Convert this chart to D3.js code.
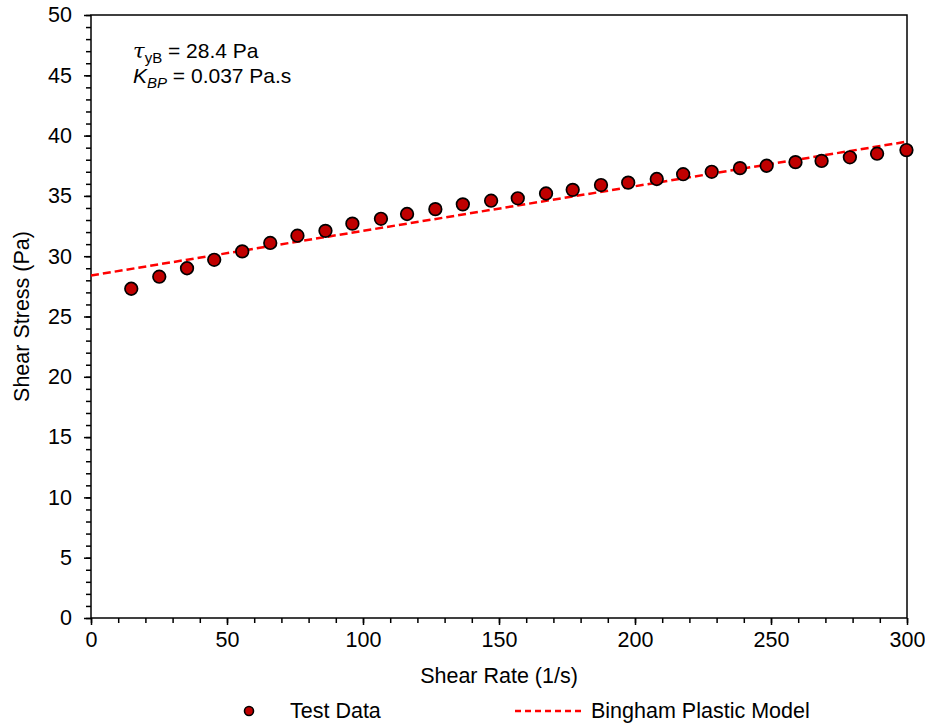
<!DOCTYPE html>
<html>
<head>
<meta charset="utf-8">
<script src="https://cdn.jsdelivr.net/npm/d3@7"></script>
<style>
  body { margin: 0; background: #fff; }
  svg { display: block; font-family: "Liberation Sans", Arial, sans-serif; }
</style>
</head>
<body>
<svg id="chart" width="925" height="726"></svg>
<script>
// Measured shear rate (1/s) and shear stress (Pa)
const shearRate = [14.8, 25.1, 35.3, 45.3, 55.6, 65.9, 75.9, 86.2, 96.1, 106.6,
  116.2, 126.6, 136.7, 147.1, 156.9, 167.3, 177.1, 187.5, 197.5, 208.0,
  217.7, 228.2, 238.6, 248.4, 259.0, 268.6, 279.0, 289.0, 299.8];
const shearStress = [27.3, 28.3, 29.0, 29.7, 30.4, 31.1, 31.7, 32.1, 32.7, 33.1,
  33.5, 33.9, 34.3, 34.6, 34.8, 35.2, 35.5, 35.9, 36.1, 36.4,
  36.8, 37.0, 37.3, 37.5, 37.8, 37.9, 38.2, 38.5, 38.8];

// Bingham plastic fit parameters
const yieldStress = 28.4;     // Pa
const plasticVisc = 0.037;    // Pa.s
const modelRate = [0, 300];

const xTicks = [0, 50, 100, 150, 200, 250, 300];
const yTicks = [0, 5, 10, 15, 20, 25, 30, 35, 40, 45, 50];

const svg = d3.select("#chart");
const plotL = 91, plotR = 907, plotT = 15, plotB = 618;
const FS = 21.5;

const x = d3.scaleLinear().domain([0, 300]).range([plotL, plotR]);
const y = d3.scaleLinear().domain([0, 50]).range([plotB, plotT]);

// Minor ticks
svg.append("g").attr("transform", `translate(0,${plotB})`)
  .call(d3.axisBottom(x).tickValues(d3.range(0, 301, 10)).tickSize(5).tickFormat(""))
  .call(g => g.select(".domain").remove())
  .call(g => g.selectAll("line").attr("stroke", "#000").attr("stroke-width", 1.5));
svg.append("g").attr("transform", `translate(${plotL},0)`)
  .call(d3.axisLeft(y).tickValues(d3.range(0, 51, 1)).tickSize(5).tickFormat(""))
  .call(g => g.select(".domain").remove())
  .call(g => g.selectAll("line").attr("stroke", "#000").attr("stroke-width", 1.5));

// Major ticks + labels
svg.append("g").attr("transform", `translate(0,${plotB})`)
  .call(d3.axisBottom(x).tickValues(xTicks).tickSize(7).tickPadding(7).tickFormat(d3.format("d")))
  .call(g => g.select(".domain").remove())
  .call(g => g.selectAll("line").attr("stroke", "#000").attr("stroke-width", 1.5))
  .call(g => g.selectAll("text").attr("font-size", FS).attr("fill", "#000")
    .attr("font-family", "Liberation Sans, Arial, sans-serif"));
svg.append("g").attr("transform", `translate(${plotL},0)`)
  .call(d3.axisLeft(y).tickValues(yTicks).tickSize(7).tickPadding(12).tickFormat(d3.format("d")))
  .call(g => g.select(".domain").remove())
  .call(g => g.selectAll("line").attr("stroke", "#000").attr("stroke-width", 1.5))
  .call(g => g.selectAll("text").attr("font-size", FS).attr("fill", "#000")
    .attr("font-family", "Liberation Sans, Arial, sans-serif"));

// Plot frame
svg.append("rect")
  .attr("x", plotL).attr("y", plotT)
  .attr("width", plotR - plotL).attr("height", plotB - plotT)
  .attr("fill", "none").attr("stroke", "#000").attr("stroke-width", 1.5);

// Bingham plastic model line
const line = d3.line()
  .x(d => x(d))
  .y(d => y(yieldStress + plasticVisc * d));
svg.append("path")
  .datum(modelRate)
  .attr("d", line)
  .attr("fill", "none")
  .attr("stroke", "#ff0000")
  .attr("stroke-width", 2.5)
  .attr("stroke-dasharray", "8,4");

// Test data markers
svg.append("g").selectAll("circle")
  .data(shearRate.map((r, i) => [r, shearStress[i]]))
  .join("circle")
  .attr("cx", d => x(d[0]))
  .attr("cy", d => y(d[1]))
  .attr("r", 6.3)
  .attr("fill", "#c00000")
  .attr("stroke", "#000")
  .attr("stroke-width", 1.7);

// Axis titles
svg.append("text")
  .attr("x", (plotL + plotR) / 2).attr("y", 683)
  .attr("text-anchor", "middle").attr("font-size", FS)
  .text("Shear Rate (1/s)");
svg.append("text")
  .attr("transform", `translate(29,${(plotT + plotB) / 2}) rotate(-90)`)
  .attr("text-anchor", "middle").attr("font-size", FS)
  .text("Shear Stress (Pa)");

// Fit parameter annotation
const ann = svg.append("text").attr("font-size", 21).attr("x", 133).attr("y", 58);
ann.append("tspan").attr("font-family", "DejaVu Serif, serif").attr("font-style", "italic").text("τ");
ann.append("tspan").attr("font-size", 15).attr("dy", 5).text("yB");
ann.append("tspan").attr("dy", -5).text(" = 28.4 Pa");
const ann2 = svg.append("text").attr("font-size", 21).attr("x", 133).attr("y", 83);
ann2.append("tspan").attr("font-style", "italic").text("K");
ann2.append("tspan").attr("font-size", 15).attr("font-style", "italic").attr("dy", 5).text("BP");
ann2.append("tspan").attr("dy", -5).text(" = 0.037 Pa.s");

// Legend
const ly = 711;
svg.append("circle").attr("cx", 249).attr("cy", ly).attr("r", 4.5)
  .attr("fill", "#c00000").attr("stroke", "#000").attr("stroke-width", 1.6);
svg.append("text").attr("x", 290).attr("y", 718).attr("font-size", FS).text("Test Data");
svg.append("line").attr("x1", 515).attr("x2", 583).attr("y1", ly).attr("y2", ly)
  .attr("stroke", "#ff0000").attr("stroke-width", 2.5).attr("stroke-dasharray", "6,4");
svg.append("text").attr("x", 591).attr("y", 718).attr("font-size", FS).text("Bingham Plastic Model");
</script>
</body>
</html>
